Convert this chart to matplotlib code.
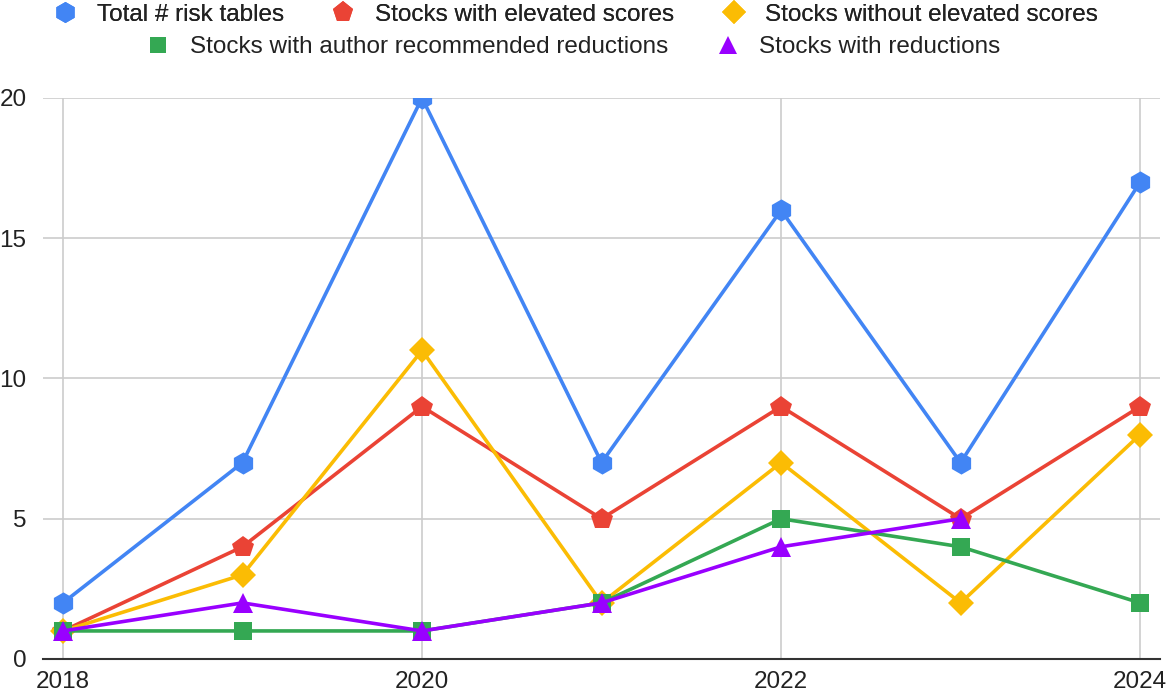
import numpy as np
import matplotlib.pyplot as plt
from matplotlib.lines import Line2D

plt.rcParams['font.family'] = ['Liberation Sans', 'DejaVu Sans']

years = [2018, 2019, 2020, 2021, 2022, 2023, 2024]
total_tables = [2, 7, 20, 7, 16, 7, 17]
elevated = [1, 4, 9, 5, 9, 5, 9]
not_elevated = [1, 3, 11, 2, 7, 2, 8]
author_reduced = [1, 1, 1, 2, 5, 4, 2]
reduced = [1, 2, 1, 2, 4, 5, np.nan]

series = [
    ('Total # risk tables', total_tables, '#4285F4', 'h', 16),
    ('Stocks with elevated scores', elevated, '#EA4335', 'p', 16),
    ('Stocks without elevated scores', not_elevated, '#FBBC04', 'D', 13),
    ('Stocks with author recommended reductions', author_reduced, '#34A853', 's', 12.5),
    ('Stocks with reductions', reduced, '#9900FF', '^', 14),
]

fig = plt.figure(figsize=(11.7, 6.98), dpi=100)
ax = fig.add_axes([0.0368, 0.0559, 0.9547, 0.8037])

handles = []
for label, vals, color, marker, ms in series:
    ax.plot(years, vals, color=color, lw=2.6, marker=marker, markersize=ms,
            markeredgewidth=0, zorder=3)
    handles.append(Line2D([], [], color=color, marker=marker, linestyle='none',
                          markersize=ms * 0.95, markeredgewidth=0, label=label))

ax.set_xlim(2017.889, 2024.111)
ax.set_ylim(0, 20)
ax.set_xticks([2018, 2020, 2022, 2024])
ax.set_yticks([0, 5, 10, 15, 20])
ax.grid(True, color='#cccccc', lw=1.2, zorder=0)
ax.set_axisbelow(True)
for side in ['top', 'right', 'left']:
    ax.spines[side].set_visible(False)
ax.spines['bottom'].set_color('#333333')
ax.spines['bottom'].set_linewidth(1.5)
ax.spines['bottom'].set_zorder(4)
ax.tick_params(length=0, labelsize=17.5, colors='#222222')
ax.tick_params(axis='x', pad=9)
ax.tick_params(axis='y', pad=12)

leg_kw = dict(frameon=False, fontsize=17.5, handletextpad=0.8, columnspacing=1.95,
              handlelength=1.0, labelcolor='#222222')
leg1 = fig.legend(handles=handles[:3], ncol=3, loc='center', bbox_to_anchor=(0.492, 0.979),
                  **leg_kw)
fig.add_artist(leg1)
fig.legend(handles=handles[3:], ncol=2, loc='center', bbox_to_anchor=(0.49, 0.932),
           **leg_kw)

fig.savefig('out.png', dpi=100)
